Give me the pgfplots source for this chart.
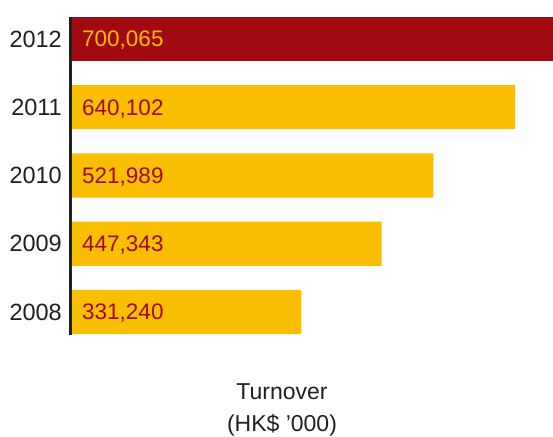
\documentclass[border=0pt]{standalone}
\usepackage{fontspec}
\setmainfont{Liberation Sans}
\usepackage{pgfplots}
\pgfplotsset{compat=1.18}
\usepackage{pgfplotstable}
\definecolor{hkred}{RGB}{162,10,18}
\definecolor{hkyellow}{RGB}{249,190,0}
\definecolor{txt}{RGB}{35,31,32}
\pgfplotstableread{
y x label
0 331240 331,240
1 447343 447,343
2 521989 521,989
3 640102 640,102
}\olddata
\pgfplotstableread{
y x label
4 700065 700,065
}\recentdata
\begin{document}
\begin{tikzpicture}[x=1bp,y=1bp]
\path[use as bounding box] (0,0) rectangle (553,-437);
\begin{axis}[
  name=ax,
  at={(72bp,-17bp)}, anchor=north west, scale only axis,
  width=481bp, height=318bp,
  xmin=0, xmax=695000, ymin=-0.337, ymax=4.322,
  axis x line=none, axis y line=left,
  axis line style={draw=none},
  ytick={0,1,2,3,4}, yticklabels={2008,2009,2010,2011,2012},
  major tick length=0pt,
  /pgf/number format/assume math mode=true,
  yticklabel style={font=\fontsize{23.5bp}{28bp}\selectfont, text=txt, inner sep=0pt, xshift=-10bp, text depth=0pt},
  clip=true,
]
\addplot[xbar, bar width=0.645, bar shift=0pt, fill=hkyellow, draw=none] table[x=x,y=y] {\olddata};
\addplot[xbar, bar width=0.645, bar shift=0pt, fill=hkred, draw=none] table[x=x,y=y] {\recentdata};
\addplot[only marks, mark=*, mark size=0pt, mark options={draw=none,fill=none},
  nodes near coords, point meta=explicit symbolic,
  nodes near coords style={anchor=west, text=hkred, inner sep=0pt, xshift=10bp, text depth=0pt, font=\fontsize{22.5bp}{27bp}\selectfont}]
  table[x expr=0, y=y, meta=label] {\olddata};
\addplot[only marks, mark=*, mark size=0pt, mark options={draw=none,fill=none},
  nodes near coords, point meta=explicit symbolic,
  nodes near coords style={anchor=west, text=hkyellow, inner sep=0pt, xshift=10bp, text depth=0pt, font=\fontsize{22.5bp}{27bp}\selectfont}]
  table[x expr=0, y=y, meta=label] {\recentdata};
\end{axis}
\draw[line width=3bp, color=txt] ([xshift=-1.5bp]ax.south west) -- ([xshift=-1.5bp]ax.north west);
\node[anchor=base, text=txt, font=\fontsize{23bp}{27bp}\selectfont, inner sep=0pt] at (282,-399) {Turnover};
\node[anchor=base, text=txt, font=\fontsize{23bp}{27bp}\selectfont, inner sep=0pt] at (282,-431) {(HK\$ ’000)};
\end{tikzpicture}
\end{document}
